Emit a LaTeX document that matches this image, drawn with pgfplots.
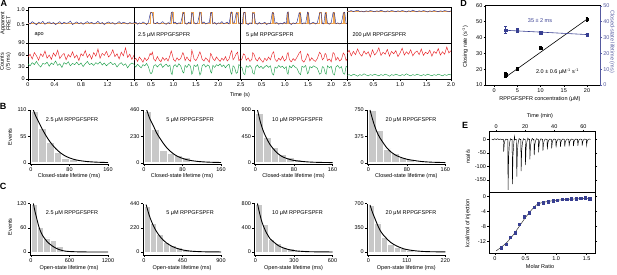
\documentclass[border=0pt]{standalone}
\usepackage{fontspec}
\setmainfont{Liberation Sans}
\usepackage{pgfplots}
\usepackage{pgfplotstable}
\pgfplotsset{compat=1.18}

\definecolor{navy}{RGB}{46,49,140}
\definecolor{orng}{RGB}{240,165,80}
\definecolor{tred}{RGB}{232,32,36}
\definecolor{tgreen}{RGB}{30,160,75}
\definecolor{hgray}{RGB}{200,200,200}
\definecolor{dblue}{RGB}{55,62,145}
\definecolor{rblue}{RGB}{85,90,160}

\newcommand{\fs}{\fontsize{5.5}{6}\selectfont}
\newcommand{\lf}{\fontsize{9}{10}\selectfont\bfseries}

\pgfplotsset{
 every axis/.append style={scale only axis, anchor=south west, font=\fs,
   tick label style={font=\fs, inner sep=1.2pt},
   /pgf/number format/assume math mode=true, /pgf/number format/1000 sep={},
   scaled ticks=false, tick align=outside, major tick length=2pt,
   tick style={line width=0.4pt, black}, axis line style={line width=0.5pt}},
 fretax/.style={height=36pt, ymin=-0.13, ymax=1.1, xtick=\empty, ytick pos=left},
 cntax/.style={height=36pt, ymin=0, ymax=90, xtick pos=left, ytick pos=left},
 hist/.style={axis lines*=left, width=78.2pt, axis on top},
 histB/.style={hist, height=54.3pt, xmin=-2.5, xmax=160, xtick={0,80,160}},
 histC/.style={hist, height=51.5pt},
 bars/.style={ybar interval, fill=hgray, draw=white, line width=0.7pt},
 fitc/.style={black, line width=0.9pt, smooth},
}

\pgfplotstableread{
t F R G
0.000 0.57 55 38
0.032 0.52 62 33
0.064 0.60 50 41
0.096 0.55 66 36
0.128 0.49 58 44
0.160 0.58 47 35
0.192 0.54 63 30
0.224 0.61 56 39
0.256 0.51 70 37
0.288 0.56 52 42
0.320 0.59 60 32
0.352 0.53 49 40
0.384 0.57 65 36
0.416 0.50 57 45
0.448 0.55 72 34
0.480 0.60 51 38
0.512 0.52 59 29
0.544 0.58 64 41
0.576 0.54 48 37
0.608 0.56 61 43
0.640 0.62 55 33
0.672 0.50 68 39
0.704 0.55 53 36
0.736 0.59 60 42
0.768 0.53 46 35
0.800 0.57 63 40
0.832 0.51 58 31
0.864 0.56 71 38
0.896 0.60 54 44
0.928 0.54 62 36
0.960 0.58 50 39
0.992 0.52 66 34
1.024 0.55 57 41
1.056 0.61 75 37
1.088 0.53 52 43
1.120 0.57 64 35
1.152 0.50 59 40
1.184 0.56 69 33
1.216 0.59 55 38
1.248 0.54 61 42
1.280 0.57 73 36
1.312 0.51 56 39
1.344 0.55 63 30
1.376 0.60 50 37
1.408 0.53 67 41
1.440 0.58 58 34
1.472 0.55 78 38
1.504 0.52 54 28
1.536 0.57 62 36
1.568 0.54 49 40
1.600 0.56 60 37
}\tA

\pgfplotstableread{
t F R G
0.12 0.54 47 34
0.16 0.58 52 30
0.20 0.51 44 37
0.24 0.56 55 32
0.28 0.53 49 28
0.32 0.59 42 36
0.36 0.55 53 33
0.40 0.50 46 39
0.44 0.57 51 31
0.48 0.86 64 16
0.50 0.92 60 13
0.53 0.88 67 18
0.56 0.56 50 33
0.60 0.53 45 36
0.64 0.58 56 30
0.68 0.52 48 35
0.72 0.55 43 38
0.76 0.60 54 29
0.80 0.54 47 34
0.84 0.51 52 37
0.88 0.57 45 31
0.92 0.53 58 35
0.95 0.89 70 14
0.97 0.93 63 11
1.00 0.55 49 32
1.04 0.58 44 36
1.08 0.52 53 30
1.12 0.56 47 38
1.16 0.54 51 33
1.21 0.87 66 17
1.23 0.91 61 15
1.26 0.55 46 34
1.30 0.51 55 29
1.34 0.58 48 37
1.38 0.53 44 32
1.41 0.90 72 12
1.43 0.86 65 16
1.46 0.57 50 35
1.50 0.52 46 31
1.54 0.56 54 36
1.59 0.92 68 10
1.61 0.88 62 14
1.64 0.54 49 33
1.68 0.59 45 37
1.72 0.52 53 30
1.76 0.55 48 35
1.80 0.57 42 32
1.83 0.89 64 18
1.85 0.91 60 15
1.88 0.53 51 34
1.92 0.57 46 29
1.96 0.51 55 36
2.00 0.56 49 33
2.04 0.54 44 38
2.08 0.60 52 31
2.12 0.53 47 35
2.16 0.55 56 28
2.20 0.58 45 34
2.24 0.52 50 37
2.28 0.88 66 16
2.30 0.93 71 12
2.33 0.55 48 33
2.36 0.57 53 30
2.40 0.90 63 14
2.43 0.87 67 17
2.46 0.54 46 36
2.50 0.56 51 32
}\tB

\pgfplotstableread{
t F R G
0.05 0.55 46 31
0.08 0.52 51 28
0.11 0.89 63 14
0.14 0.92 60 11
0.17 0.54 47 33
0.21 0.50 53 29
0.25 0.56 44 34
0.29 0.53 49 27
0.31 0.90 66 15
0.34 0.87 61 12
0.37 0.55 50 30
0.41 0.51 45 35
0.45 0.57 54 28
0.49 0.52 47 32
0.53 0.54 42 26
0.57 0.58 52 31
0.61 0.50 46 34
0.65 0.55 55 29
0.69 0.53 48 33
0.73 0.91 64 13
0.76 0.88 68 10
0.79 0.54 49 30
0.83 0.57 44 27
0.87 0.51 52 34
0.91 0.55 47 29
0.95 0.52 57 32
0.99 0.58 45 26
1.03 0.53 50 31
1.05 0.89 62 16
1.07 0.93 66 12
1.10 0.55 48 33
1.14 0.50 43 28
1.18 0.56 51 35
1.22 0.53 46 30
1.26 0.57 54 27
1.31 0.90 65 14
1.34 0.86 69 11
1.37 0.52 47 32
1.41 0.56 42 29
1.45 0.54 50 34
1.49 0.92 63 13
1.51 0.88 60 16
1.54 0.51 45 31
1.58 0.55 53 28
1.62 0.58 47 33
1.66 0.52 44 30
1.70 0.56 51 27
1.75 0.89 67 12
1.78 0.91 62 14
1.81 0.54 48 31
1.84 0.52 52 29
1.87 0.90 64 15
1.89 0.87 61 12
1.92 0.55 46 33
1.96 0.51 50 28
2.00 0.57 43 32
2.04 0.91 66 13
2.07 0.88 63 10
2.10 0.53 47 30
2.14 0.56 54 34
2.18 0.52 45 27
2.22 0.55 49 31
2.26 0.89 65 14
2.29 0.92 60 12
2.32 0.54 46 32
2.34 0.53 50 30
}\tC

\pgfplotstableread{
t F R G
0.00 0.97 64 9
0.04 0.95 72 11
0.08 0.98 58 8
0.12 0.94 69 12
0.16 0.97 61 10
0.20 0.99 75 7
0.24 0.95 63 11
0.28 0.96 57 9
0.32 0.93 70 13
0.36 0.97 62 10
0.40 0.95 68 8
0.44 0.98 55 11
0.48 0.96 73 9
0.52 0.94 60 12
0.56 0.97 66 10
0.60 0.95 78 8
0.64 0.99 59 11
0.68 0.96 67 9
0.72 0.93 62 12
0.76 0.97 74 10
0.80 0.95 57 7
0.84 0.98 69 11
0.88 0.96 63 9
0.92 0.94 71 12
0.96 0.97 56 10
1.00 0.95 65 8
1.04 0.98 77 11
1.08 0.96 60 9
1.12 0.93 68 13
1.16 0.97 62 10
1.20 0.95 73 8
1.24 0.99 58 11
1.28 0.96 66 9
1.32 0.94 70 12
1.36 0.97 61 10
1.40 0.95 75 8
1.44 0.98 59 11
1.48 0.96 67 9
1.52 0.93 63 12
1.56 0.97 72 10
1.60 0.95 57 8
1.64 0.98 69 11
1.68 0.96 64 9
1.72 0.94 76 12
1.76 0.97 60 10
1.80 0.95 68 8
1.84 0.98 62 11
1.88 0.96 80 9
1.92 0.94 65 12
1.96 0.97 71 10
}\tD

\begin{document}
\begin{tikzpicture}
\path[use as bounding box] (0pt,0pt) rectangle (617pt,274pt);

% ---------------- Panel A ----------------
\begin{axis}[fretax, at={(28pt,231pt)}, width=106pt, xmin=0, xmax=1.6, ytick={0.5,1}, yticklabels={0.5,1.0}]
\addplot[orng, line width=0.8pt] coordinates {(0,0.55)(1.6,0.55)};
\addplot[navy, line width=0.45pt] table[x=t,y=F]{\tA};
\end{axis}
\begin{axis}[cntax, at={(28pt,195pt)}, width=106pt, xmin=0, xmax=1.6, xtick={0,0.4,0.8,1.2,1.6}, xticklabels={0,0.4,0.8,1.2,1.6}, ytick={0,30,60,90}]
\addplot[tred, line width=0.45pt] table[x=t,y=R]{\tA};
\addplot[tgreen, line width=0.45pt] table[x=t,y=G]{\tA};
\end{axis}

\begin{axis}[fretax, at={(134pt,231pt)}, width=106.7pt, xmin=0.12, xmax=2.5, ytick=\empty]
\addplot[orng, line width=0.9pt] coordinates {(0.12,0.55)(0.48,0.55)(0.48,0.9)(0.55,0.9)(0.55,0.55)(0.95,0.55)(0.95,0.9)(0.99,0.9)(0.99,0.55)(1.21,0.55)(1.21,0.9)(1.245,0.9)(1.245,0.55)(1.41,0.55)(1.41,0.9)(1.445,0.9)(1.445,0.55)(1.59,0.55)(1.59,0.9)(1.625,0.9)(1.625,0.55)(1.83,0.55)(1.83,0.9)(1.865,0.9)(1.865,0.55)(2.28,0.55)(2.28,0.9)(2.32,0.9)(2.32,0.55)(2.40,0.55)(2.40,0.9)(2.445,0.9)(2.445,0.55)(2.5,0.55)};
\addplot[navy, line width=0.45pt] table[x=t,y=F]{\tB};
\end{axis}
\begin{axis}[cntax, at={(134pt,195pt)}, width=106.7pt, xmin=0.12, xmax=2.5, xtick={0.5,1,1.5,2,2.5}, xticklabels={0.5,1.0,1.5,2.0,2.5}, ytick=\empty]
\addplot[tred, line width=0.45pt] table[x=t,y=R]{\tB};
\addplot[tgreen, line width=0.45pt] table[x=t,y=G]{\tB};
\end{axis}

\begin{axis}[fretax, at={(240.7pt,231pt)}, width=106.3pt, xmin=0.05, xmax=2.34, ytick=\empty]
\addplot[orng, line width=0.9pt] coordinates {(0.05,0.54)(0.11,0.54)(0.11,0.9)(0.145,0.9)(0.145,0.54)(0.31,0.54)(0.31,0.9)(0.345,0.9)(0.345,0.54)(0.73,0.54)(0.73,0.9)(0.765,0.9)(0.765,0.54)(1.05,0.54)(1.05,0.9)(1.075,0.9)(1.075,0.54)(1.31,0.54)(1.31,0.9)(1.345,0.9)(1.345,0.54)(1.49,0.54)(1.49,0.9)(1.515,0.9)(1.515,0.54)(1.75,0.54)(1.75,0.9)(1.785,0.9)(1.785,0.54)(1.87,0.54)(1.87,0.9)(1.895,0.9)(1.895,0.54)(2.04,0.54)(2.04,0.9)(2.075,0.9)(2.075,0.54)(2.26,0.54)(2.26,0.9)(2.295,0.9)(2.295,0.54)(2.34,0.54)};
\addplot[navy, line width=0.45pt] table[x=t,y=F]{\tC};
\end{axis}
\begin{axis}[cntax, at={(240.7pt,195pt)}, width=106.3pt, xmin=0.05, xmax=2.34, xtick={0.5,1,1.5,2,2.34}, xticklabels={0.5,1.0,1.5,2.0,2.5}, ytick=\empty]
\addplot[tred, line width=0.45pt] table[x=t,y=R]{\tC};
\addplot[tgreen, line width=0.45pt] table[x=t,y=G]{\tC};
\end{axis}

\begin{axis}[fretax, at={(347pt,231pt)}, width=104pt, xmin=0, xmax=1.96, ytick=\empty]
\addplot[orng, line width=0.8pt] coordinates {(0,0.96)(1.96,0.96)};
\addplot[navy, line width=0.45pt] table[x=t,y=F]{\tD};
\end{axis}
\begin{axis}[cntax, at={(347pt,195pt)}, width=104pt, xmin=0, xmax=1.96, xtick={0.5,1,1.5,1.96}, xticklabels={0.5,1.0,1.5,2.0}, ytick=\empty]
\addplot[tred, line width=0.45pt] table[x=t,y=R]{\tD};
\addplot[tgreen, line width=0.45pt] table[x=t,y=G]{\tD};
\end{axis}

% ---------------- Panel D ----------------
\begin{axis}[at={(485.7pt,189pt)}, width=114.3pt, height=79.3pt, xmin=-1.8, xmax=22.8, ymin=10, ymax=60, xtick={0,5,10,15,20}, ytick={10,20,30,40,50,60}, xtick pos=left, ytick pos=left]
\addplot[black, line width=0.6pt] coordinates {(2.5,15)(20,51.5)};
\addplot[black, only marks, mark=square*, mark size=1.3pt, error bars/.cd, y dir=both, y explicit, error bar style={line width=0.5pt}, error mark options={rotate=90, mark size=1.3pt, line width=0.5pt}] coordinates {(2.5,16.5) +- (0,1.5) (5,20.2) +- (0,0.8) (10,33.3) +- (0,1.0) (20,51.5) +- (0,1.0)};
\end{axis}
\begin{axis}[at={(485.7pt,189pt)}, width=114.3pt, height=79.3pt, xmin=-1.8, xmax=22.8, ymin=0, ymax=50, axis x line=none, axis y line*=right, ytick={0,10,20,30,40,50}, y axis line style={rblue, line width=0.6pt}, ytick style={rblue}, yticklabel style={rblue}]
\addplot[dblue, line width=0.6pt] coordinates {(2.5,34.5)(20,31.8)};
\addplot[dblue, only marks, mark=square*, mark size=1.3pt, error bars/.cd, y dir=both, y explicit, error bar style={line width=0.5pt}, error mark options={rotate=90, mark size=1.3pt, line width=0.5pt}] coordinates {(2.5,34.6) +- (0,2.2) (5,34.3) +- (0,1.2) (10,33) +- (0,1.2) (20,31.8) +- (0,0.8)};
\end{axis}

% ---------------- Panel E ----------------
\begin{axis}[at={(489.3pt,81.3pt)}, width=105.7pt, height=61pt, xmin=-4.7, xmax=68, ymin=-197, ymax=28, xtick={0,20,40,60}, xtick pos=right, xticklabel pos=right, ytick={-150,-100,-50,0}, ytick pos=both, yticklabel pos=left]
\addplot[black, line width=0.45pt] coordinates {(-3,1)(-2,-2)(-1,2)(0,-1)(1,2)(2,-1)(3,1)(4,-2)
(5,0)(5.2,-45)(5.6,-16)(6.1,-4)(6.8,1)(7.5,-1)
(8,0)(8.2,-187)(8.6,-65)(9.1,-19)(9.8,2)(10.5,-1)
(11,0)(11.2,-165)(11.6,-58)(12.1,-16)(12.6,11)(12.9,-2)(13.5,0)
(14,0)(14.2,-138)(14.6,-48)(15.1,-14)(15.8,3)(16.5,-1)
(17,0)(17.2,-117)(17.6,-41)(18.1,-12)(18.8,2)(19.5,-1)
(20,0)(20.2,-95)(20.6,-33)(21.1,-10)(21.8,4)(22.5,-1)
(23,0)(23.2,-74)(23.6,-26)(24.1,-7)(24.8,3)(25.5,-1)
(26,0)(26.2,-58)(26.6,-20)(27.1,-6)(27.8,2)(28.5,0)
(29,0)(29.2,-48)(29.6,-17)(30.1,-5)(30.8,2)(31.5,0)
(32,0)(32.2,-42)(32.6,-15)(33.1,-4)(33.8,1)(34.5,0)
(35,0)(35.2,-37)(35.6,-13)(36.1,-4)(36.8,1)(37.5,0)
(38,0)(38.2,-33)(38.6,-12)(39.1,-3)(39.8,1)(40.5,0)
(41,0)(41.2,-30)(41.6,-10)(42.1,-3)(42.8,1)(43.5,0)
(44,0)(44.2,-28)(44.6,-10)(45.1,-3)(45.8,1)(46.5,0)
(47,0)(47.2,-27)(47.6,-9)(48.1,-3)(48.8,1)(49.5,0)
(50,0)(50.2,-26)(50.6,-9)(51.1,-3)(51.8,1)(52.5,0)
(53,0)(53.2,-25)(53.6,-9)(54.1,-2)(54.8,1)(55.5,0)
(56,0)(56.2,-24)(56.6,-8)(57.1,-2)(57.8,1)(58.5,0)
(59,0)(59.2,-23)(59.6,-8)(60.1,-2)(60.8,1)(61.5,0)
(62,0)(62.2,-22)(62.6,-8)(63.1,-2)(63.8,1)(65,0)};
\end{axis}
\begin{axis}[at={(489.3pt,21pt)}, width=105.7pt, height=60.3pt, xmin=-0.093, xmax=1.636, ymin=-15, ymax=0.9, xtick={0,0.5,1,1.5}, xticklabels={0,0.5,1.0,1.5}, ytick={-12,-8,-4,0}, xtick pos=left, ytick pos=both, yticklabel pos=left]
\addplot[black!80, line width=0.5pt, smooth] coordinates {(0.02,-14.4)(0.1,-13.5)(0.2,-12.1)(0.3,-10.2)(0.4,-7.9)(0.5,-5.6)(0.6,-3.6)(0.68,-2.3)(0.75,-1.8)(0.85,-1.45)(0.95,-1.2)(1.1,-0.95)(1.3,-0.75)(1.56,-0.55)};
\addplot[dblue, only marks, mark=square*, mark size=1.2pt] coordinates {(0.10,-13.6)(0.18,-12.6)(0.25,-10.8)(0.33,-9.6)(0.40,-7.4)(0.48,-5.4)(0.56,-4.4)(0.64,-3.0)(0.71,-2.0)(0.79,-1.7)(0.87,-1.45)(0.95,-1.2)(1.02,-1.05)(1.10,-0.85)(1.17,-0.75)(1.25,-0.65)(1.33,-0.65)(1.40,-0.55)(1.48,-0.45)(1.55,-0.72)};
\end{axis}

% ---------------- Panel B ----------------
\begin{axis}[histB, at={(29.8pt,109.7pt)}, ymin=-3.3, ymax=110, ytick={0,55,110}]
\addplot[bars] coordinates {(0,108)(16,72)(32,43)(48,21)(64,10)(80,7)(96,2)(112,1)(128,0.5)(144,0.3)(160,0)};
\addplot[fitc] coordinates {(4.8,110)(10,97)(16.5,84)(24,69)(32,55)(40,43)(48,33)(56,25)(64,18.6)(72,13.6)(80,10)(90,6.8)(100,4.6)(115,2.6)(130,1.5)(145,0.8)(160,0.4)};
\end{axis}
\begin{axis}[histB, at={(142.8pt,109.7pt)}, ymin=-13.8, ymax=460, ytick={0,230,460}]
\addplot[bars] coordinates {(0,450)(16,287)(32,109)(48,78)(64,62)(80,48)(96,15)(112,10)(128,6)(144,3)(160,0)};
\addplot[fitc] coordinates {(5.6,460)(12,385)(19.5,322)(26,262)(33,214)(40,170)(47,132)(54,102)(61,78)(70,55)(82,35)(95,21)(110,12)(125,7)(140,4)(160,2)};
\end{axis}
\begin{axis}[histB, at={(254.3pt,109.7pt)}, ymin=-27, ymax=900, ytick={0,450,900}]
\addplot[bars] coordinates {(0,844)(16,439)(32,264)(48,141)(64,84)(80,51)(96,20)(112,10)(128,5)(144,2)(160,0)};
\addplot[fitc] coordinates {(4.2,900)(10,700)(16.7,530)(24,400)(30.6,305)(38,228)(44.5,170)(54,112)(65,72)(78,42)(93,25)(110,13)(130,6)(160,2)};
\end{axis}
\begin{axis}[histB, at={(367.1pt,109.7pt)}, ymin=-22.5, ymax=750, ytick={0,375,750}]
\addplot[bars] coordinates {(0,740)(16,455)(32,197)(48,127)(64,80)(80,47)(96,23)(112,10)(128,5)(144,2)(160,0)};
\addplot[fitc] coordinates {(3.5,750)(10,590)(17.4,445)(24,355)(31.3,280)(38,215)(45,165)(55,115)(66,80)(80,50)(94,33)(110,18)(130,8)(160,2)};
\end{axis}

% ---------------- Panel C ----------------
\begin{axis}[histC, at={(29.8pt,19pt)}, xmin=-18.7, xmax=1200, xtick={0,600,1200}, ymin=-7.4, ymax=120, ytick={0,60,120}]
\addplot[bars] coordinates {(0,118)(100,60)(200,35)(300,28)(400,14)(500,3)(600,1)(700,0.5)(800,0)(900,0)(1000,0)(1100,0)(1200,0)};
\addplot[fitc] coordinates {(37,120)(60,102)(89,83)(115,67)(141,54)(180,41)(220,32)(260,24)(299,19)(350,13)(404,8.3)(480,4)(561,1.7)(700,0.6)(900,0.1)(1200,0)};
\end{axis}
\begin{axis}[histC, at={(142.8pt,19pt)}, xmin=-14, xmax=900, xtick={0,450,900}, ymin=-27.3, ymax=440, ytick={0,220,440}]
\addplot[bars] coordinates {(0,410)(75,258)(150,161)(225,85)(300,61)(375,42)(450,24)(525,15)(600,9)(675,4)(750,2)(825,1)(900,0)};
\addplot[fitc] coordinates {(25,430)(60,335)(90,273)(120,222)(149,182)(190,138)(227,106)(265,81)(305,61)(360,40)(423,24)(500,12)(579,6)(700,2)(900,0.3)};
\end{axis}
\begin{axis}[histC, at={(254.3pt,19pt)}, xmin=-9.4, xmax=600, xtick={0,300,600}, ymin=-49.6, ymax=800, ytick={0,400,800}]
\addplot[bars] coordinates {(0,789)(50,458)(100,210)(150,138)(200,83)(250,55)(300,28)(350,17)(400,8)(450,4)(500,2)(550,1)(600,0)};
\addplot[fitc] coordinates {(15,800)(30,655)(50,495)(70,385)(89,303)(115,215)(141,166)(180,103)(219,66)(270,34)(324,17)(400,6)(500,2)(600,0.5)};
\end{axis}
\begin{axis}[histC, at={(367.1pt,19pt)}, xmin=-3.4, xmax=220, xtick={0,110,220}, ymin=-43.4, ymax=700, ytick={0,350,700}]
\addplot[bars] coordinates {(0,676)(18.33,420)(36.67,207)(55,106)(73.33,72)(91.67,48)(110,29)(128.33,14)(146.67,7)(165,3)(183.33,1)(201.67,0.5)(220,0)};
\addplot[fitc] coordinates {(4.8,680)(12,570)(19,483)(26,395)(33.5,314)(43,245)(52.6,193)(65,135)(81,87)(100,48)(120,26)(145,12)(170,5)(220,1)};
\end{axis}

% ---------------- Text ----------------
\node[font=\lf, inner sep=0pt] at (4pt,270.5pt) {A};
\node[font=\lf, inner sep=0pt] at (3.2pt,167.7pt) {B};
\node[font=\lf, inner sep=0pt] at (3pt,88pt) {C};
\node[font=\lf, inner sep=0pt] at (463.5pt,270.3pt) {D};
\node[font=\lf, inner sep=0pt] at (465pt,149pt) {E};

\node[font=\fontsize{5.5}{5.8}\selectfont, rotate=90, align=center, inner sep=0pt] at (5.5pt,250.7pt) {Apparent\\FRET};
\node[font=\fontsize{5.5}{5.8}\selectfont, rotate=90, align=center, inner sep=0pt] at (5.5pt,212.3pt) {Counts\\(/5 ms)};
\node[font=\fs, anchor=west] at (31pt,239pt) {apo};
\node[font=\fs, anchor=west] at (134.5pt,239pt) {2.5 μM RPPGFSPFR};
\node[font=\fs, anchor=west] at (242.5pt,239pt) {5 μM RPPGFSPFR};
\node[font=\fs, anchor=west] at (349pt,239pt) {200 μM RPPGFSPFR};
\node[font=\fs] at (240pt,179pt) {Time (s)};

\node[font=\fs, rotate=90] at (465pt,227.3pt) {Closing rate (s\textsuperscript{-1})};
\node[font=\fs, rotate=-90, text=rblue] at (612pt,232.3pt) {Closed-state lifetime (ms)};
\node[font=\fs] at (540pt,174.7pt) {RPPGFSPFR concentration (μM)};
\node[font=\fs, text=dblue] at (540pt,253.3pt) {35 ± 2 ms};
\node[font=\fs] at (557.5pt,202.3pt) {2.0 ± 0.6 μM\textsuperscript{-1} s\textsuperscript{-1}};

\node[font=\fs] at (540pt,158pt) {Time (min)};
\node[font=\fs, rotate=90] at (468pt,117.3pt) {ncal/s};
\node[font=\fs, rotate=90] at (468pt,50.7pt) {kcal/mol of injection};
\node[font=\fs] at (540pt,7pt) {Molar Ratio};

\node[font=\fs, rotate=90] at (10pt,137pt) {Events};
\node[font=\fs, rotate=90] at (10pt,47pt) {Events};
\node[font=\fs] at (72pt,154pt) {2.5 μM RPPGFSPFR};
\node[font=\fs] at (190pt,154pt) {5 μM RPPGFSPFR};
\node[font=\fs] at (297.5pt,154pt) {10 μM RPPGFSPFR};
\node[font=\fs] at (411pt,154pt) {20 μM RPPGFSPFR};
\node[font=\fs] at (72pt,61pt) {2.5 μM RPPGFSPFR};
\node[font=\fs] at (190pt,61pt) {5 μM RPPGFSPFR};
\node[font=\fs] at (297.5pt,61pt) {10 μM RPPGFSPFR};
\node[font=\fs] at (411pt,61pt) {20 μM RPPGFSPFR};
\node[font=\fs] at (69pt,98pt) {Closed-state lifetime (ms)};
\node[font=\fs] at (182pt,98pt) {Closed-state lifetime (ms)};
\node[font=\fs] at (293.5pt,98pt) {Closed-state lifetime (ms)};
\node[font=\fs] at (406.3pt,98pt) {Closed-state lifetime (ms)};
\node[font=\fs] at (69pt,5.5pt) {Open-state lifetime (ms)};
\node[font=\fs] at (182pt,5.5pt) {Open-state lifetime (ms)};
\node[font=\fs] at (293.5pt,5.5pt) {Open-state lifetime (ms)};
\node[font=\fs] at (406.3pt,5.5pt) {Open-state lifetime (ms)};
\end{tikzpicture}
\end{document}
